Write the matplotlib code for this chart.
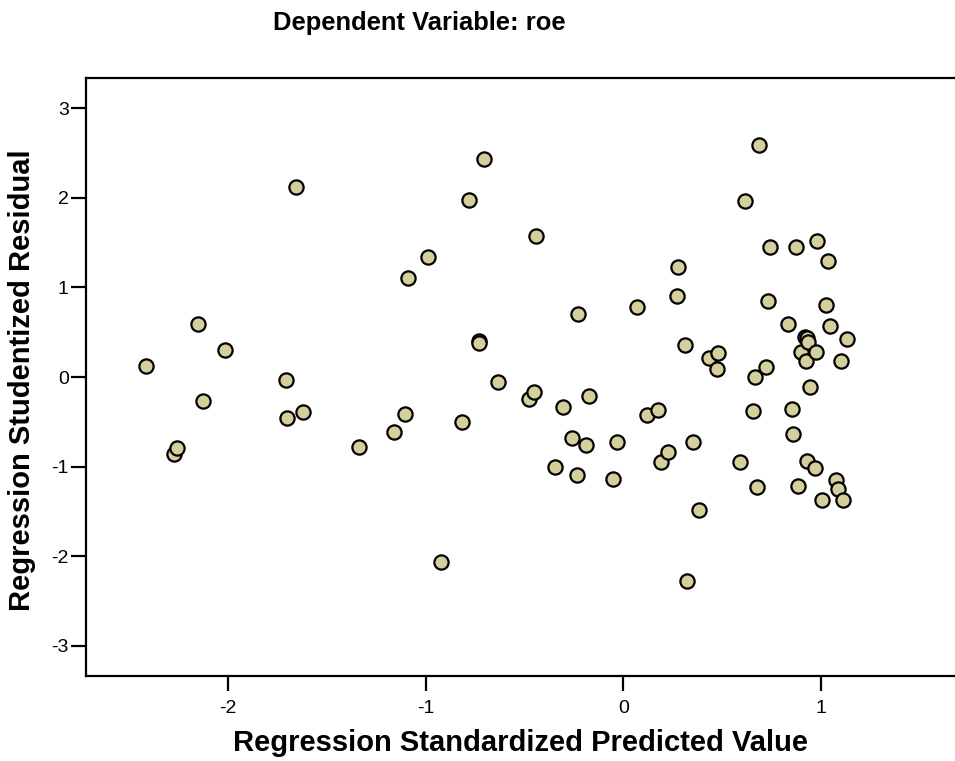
import matplotlib
matplotlib.use("Agg")
import matplotlib.pyplot as plt

plt.rcParams['font.family'] = ['Liberation Sans', 'DejaVu Sans']

title = "Dependent Variable: roe"
xlabel = "Regression Standardized Predicted Value"
ylabel = "Regression Studentized Residual"

pred = [-2.415, -2.273, -2.258, -2.153, -2.127, -2.018, -1.706, -1.703, -1.659, -1.622,
        -1.340, -1.163, -1.106, -1.091, -0.986, -0.924, -0.814, -0.783, -0.728, -0.730,
        -0.707, -0.634, -0.475, -0.453, -0.443, -0.345, -0.306, -0.257, -0.235, -0.229,
        -0.188, -0.175, -0.050, -0.034, 0.068, 0.119, 0.178, 0.190, 0.227, 0.272,
        0.277, 0.313, 0.321, 0.353, 0.382, 0.434, 0.475, 0.482, 0.593, 0.616,
        0.659, 0.665, 0.679, 0.686, 0.721, 0.733, 0.743, 0.833, 0.854, 0.859,
        0.877, 0.883, 0.900, 0.919, 0.932, 0.935, 0.924, 0.930, 0.944, 0.973,
        0.976, 0.979, 1.008, 1.026, 1.038, 1.049, 1.077, 1.087, 1.102, 1.111, 1.135]
resid = [0.123, -0.860, -0.797, 0.596, -0.265, 0.305, -0.030, -0.461, 2.120, -0.387,
         -0.778, -0.615, -0.410, 1.103, 1.341, -2.063, -0.507, 1.981, 0.406, 0.383,
         2.439, -0.052, -0.250, -0.170, 1.579, -1.002, -0.331, -0.685, -1.095, 0.700,
         -0.760, -0.215, -1.136, -0.726, 0.783, -0.421, -0.369, -0.953, -0.834, 0.909,
         1.229, 0.361, -2.279, -0.722, -1.482, 0.212, 0.086, 0.264, -0.953, 1.970,
         -0.376, 0.004, -1.233, 2.585, 0.112, 0.853, 1.456, 0.589, -0.361, -0.641,
         1.453, -1.218, 0.283, 0.443, 0.436, 0.388, 0.175, -0.942, -0.115, -1.020,
         0.283, 1.523, -1.371, 0.801, 1.300, 0.573, -1.155, -1.251, 0.175, -1.371, 0.428]

xticks = [-2, -1, 0, 1]
yticks = [-3, -2, -1, 0, 1, 2, 3]

fig = plt.figure(figsize=(9.55, 7.61), dpi=100)
ax = fig.add_axes([86/955, 1 - 676/761, 1 - 86/955 + 0.01, (676 - 78)/761])

ax.scatter(pred, resid, s=105, facecolor='#D4CF9C', edgecolor='black', linewidths=1.6, zorder=3)

ax.set_xlim(-2.720, 1.728)
ax.set_ylim(-3.338, 3.338)
ax.set_xticks(xticks)
ax.set_yticks(yticks)
ax.set_xticklabels([str(t) for t in xticks])
ax.set_yticklabels([str(t) for t in yticks])

for side in ['left', 'bottom', 'top']:
    ax.spines[side].set_linewidth(1.6)
ax.spines['right'].set_visible(False)
ax.tick_params(axis='both', direction='out', length=10.5, width=1.6, labelsize=14)
ax.tick_params(axis='x', pad=7)
ax.tick_params(axis='y', pad=2)

fig.text(419/955, 1 - 23/761, title, ha='center', va='center', fontsize=18.4, fontweight='bold')
fig.text(520/955, 1 - 743/761, xlabel, ha='center', va='center', fontsize=21, fontweight='bold')
fig.text(22/955, 1 - 380/761, ylabel, ha='center', va='center', fontsize=21, fontweight='bold', rotation=90)

fig.savefig("out.png", dpi=100)
